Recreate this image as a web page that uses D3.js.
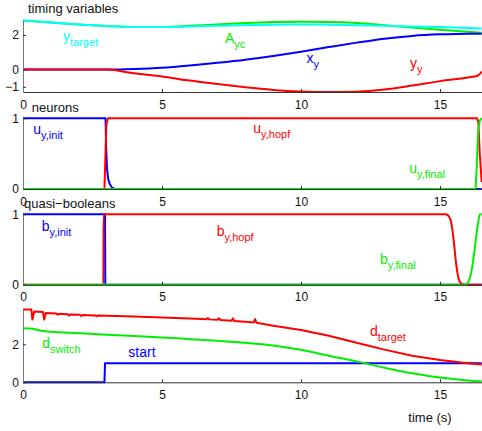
<!DOCTYPE html>
<html>
<head>
<meta charset="utf-8">
<script src="https://cdn.jsdelivr.net/npm/d3@7"></script>
<style>
  body { margin: 0; background: #fff; }
  svg { display: block; font-family: "Liberation Sans", Arial, Helvetica, sans-serif; }
</style>
</head>
<body>
<div id="chart"></div>
<script>
// ---- timing variables ----
const tTiming = [0,1,2,3,4,5,6,7,8,9,10,11,12,13,14,15,16,16.5];
const yTarget = [2.84,2.72,2.61,2.52,2.46,2.46,2.49,2.53,2.57,2.60,2.61,2.60,2.57,2.53,2.49,2.46,2.41,2.38];
const aYc     = [2.84,2.72,2.61,2.52,2.46,2.47,2.53,2.61,2.69,2.75,2.77,2.76,2.70,2.57,2.43,2.31,2.19,2.13];
const xY      = [0,0,0,0,0.03,0.1,0.23,0.39,0.57,0.79,1.03,1.30,1.56,1.79,1.95,2.04,2.08,2.07];
const tYy = [0,1,2,3,4,5,6,7,8,9,10,11,12,13,14,15,16,16.35,16.45,16.5];
const yY  = [0,0,0,0,-0.22,-0.4,-0.64,-0.84,-1.03,-1.18,-1.27,-1.3,-1.28,-1.16,-0.93,-0.67,-0.46,-0.36,-0.22,-0.12];

// ---- neurons ----
const tUInit  = [0,2.97,2.99,3.02,3.06,3.12,3.2,3.3,16.5];
const uInit   = [1,1,0.6,0.3,0.15,0.07,0.02,0,0];
const tUHopf  = [0,2.93,2.96,3.0,3.06,16.33,16.38,16.43,16.5];
const uHopf   = [0,0,0.4,0.92,1,1,0.95,0.5,0.1];
const tUFinal = [0,16.28,16.32,16.37,16.43,16.5];
const uFinal  = [0,0,0.3,0.8,0.97,1];

// ---- quasi-booleans ----
const tBInit  = [0,2.95,2.96,16.5];
const bInit   = [1,1,0,0];
const tBHopf  = [0,2.89,2.9,15.2,15.32,15.42,15.5,15.58,15.66,15.76,15.9,16.5];
const bHopf   = [0,0,1,1,0.97,0.85,0.6,0.3,0.1,0.02,0,0];
const tBFinal = [0,15.92,16.02,16.12,16.22,16.3,16.38,16.44,16.5];
const bFinal  = [0,0,0.04,0.17,0.42,0.68,0.9,1,1];

// ---- distances ----
const tTarget = [0,0.3,0.34,0.4,0.72,0.76,0.82,1.2,1.25,1.3,1.6,1.65,1.7,2.05,2.1,2.15,2.6,2.65,2.7,3,4,5,6,6.6,6.65,6.7,7,7.05,7.1,7.5,7.55,7.6,8,8.3,8.35,8.4,9,10,11,12,13,14,15,16,16.5];
const dTarget = [3.83,3.83,3.3,3.72,3.7,3.3,3.65,3.62,3.55,3.61,3.58,3.52,3.57,3.55,3.49,3.54,3.52,3.47,3.51,3.5,3.46,3.41,3.36,3.32,3.38,3.31,3.29,3.37,3.28,3.24,3.36,3.23,3.19,3.15,3.32,3.13,2.98,2.75,2.45,2.08,1.72,1.4,1.17,1.0,0.94];
const tSwitch = [0,0.35,0.6,1,2,3,4,5,6,7,8,9,10,11,12,13,14,15,16,16.5];
const dSwitch = [2.84,2.82,2.72,2.66,2.58,2.5,2.43,2.36,2.27,2.18,2.08,1.94,1.71,1.4,1.1,0.77,0.48,0.25,0.1,0.05];
const tStart  = [0,2.93,2.95,16.5];
const start   = [0,0,1,1];

const xTicks = [0,5,10,15];

const width = 482, height = 431;
const BLUE = '#0000ff', RED = '#ff0000', GREEN = '#00ee00', CYAN = '#00ffff';

const zip = (ts, vs) => ts.map((t, i) => ({t: t, v: vs[i]}));

const panels = [
  {top: 20, bottom: 92, domain: [-1.3, 2.87], yTicks: [-1,0,2],
   title: 'timing variables', titleX: 28, titleY: 13,
   series: [
     {data: zip(tTiming, aYc), color: GREEN, smooth: true},
     {data: zip(tTiming, yTarget), color: CYAN, smooth: true},
     {data: zip(tTiming, xY), color: BLUE, smooth: true},
     {data: zip(tYy, yY), color: RED, smooth: true}
   ],
   labels: [
     {x: 63, y: 41, main: 'y', sub: 'target', color: CYAN},
     {x: 225, y: 43.3, main: 'A', sub: 'yc', color: GREEN},
     {x: 306.5, y: 63.3, main: 'x', sub: 'y', color: BLUE},
     {x: 410, y: 67.5, main: 'y', sub: 'y', color: RED}
   ]},
  {top: 118.3, bottom: 189, domain: [0, 1], yTicks: [0,1],
   title: 'neurons', titleX: 31.7, titleY: 111.5,
   series: [
     {data: zip(tUInit, uInit), color: BLUE},
     {data: zip(tUHopf, uHopf), color: RED},
     {data: zip(tUFinal, uFinal), color: GREEN}
   ],
   labels: [
     {x: 33.3, y: 134, main: 'u', sub: 'y,init', color: BLUE},
     {x: 253.3, y: 133.3, main: 'u', sub: 'y,hopf', color: RED},
     {x: 409.3, y: 172.5, main: 'u', sub: 'y,final', color: GREEN}
   ]},
  {top: 214.3, bottom: 284.7, domain: [0, 1], yTicks: [0,1],
   title: 'quasi\u2212booleans', titleX: 24, titleY: 207.5,
   series: [
     {data: zip(tBInit, bInit), color: BLUE},
     {data: zip(tBHopf, bHopf), color: RED, smooth: true},
     {data: zip(tBFinal, bFinal), color: GREEN, smooth: true}
   ],
   labels: [
     {x: 41.7, y: 231, main: 'b', sub: 'y,init', color: BLUE},
     {x: 216.7, y: 236, main: 'b', sub: 'y,hopf', color: RED},
     {x: 380, y: 264, main: 'b', sub: 'y,final', color: GREEN}
   ]},
  {top: 309.3, bottom: 382.3, domain: [0, 3.84], yTicks: [0,2],
   series: [
     {data: zip(tStart, start), color: BLUE},
     {data: zip(tSwitch, dSwitch), color: GREEN, smooth: true},
     {data: zip(tTarget, dTarget), color: RED}
   ],
   labels: [
     {x: 42.3, y: 348.3, main: 'd', sub: 'switch', color: GREEN},
     {x: 128.3, y: 356.7, main: 'start', sub: '', color: BLUE},
     {x: 370, y: 335.7, main: 'd', sub: 'target', color: RED}
   ]}
];

const xScale = d3.scaleLinear()
  .domain([0, 16.5])
  .range([23, 23 + 16.5 * 27.8]);

const svg = d3.select('#chart').append('svg')
  .attr('width', width)
  .attr('height', height);

panels.forEach(p => {
  const yScale = d3.scaleLinear()
    .domain(p.domain)
    .range([p.bottom, p.top]);

  const g = svg.append('g');

  p.series.forEach(s => {
    const line = d3.line()
      .x(d => xScale(d.t))
      .y(d => yScale(d.v))
      .curve(s.smooth ? d3.curveMonotoneX : d3.curveLinear);
    g.append('path')
      .attr('fill', 'none')
      .attr('stroke', s.color)
      .attr('stroke-width', 2)
      .attr('stroke-linejoin', 'round')
      .attr('d', line(s.data));
  });

  const xAxisG = g.append('g')
    .attr('transform', `translate(0,${p.bottom})`)
    .call(d3.axisBottom(xScale)
      .tickValues(xTicks)
      .tickFormat(d3.format('d'))
      .tickSizeInner(-3)
      .tickSizeOuter(0)
      .tickPadding(8));
  xAxisG.select('.domain').attr('stroke', '#333');
  xAxisG.selectAll('.tick line').attr('stroke', '#333');
  xAxisG.selectAll('text')
    .attr('font-size', 12)
    .attr('font-family', '"Liberation Sans", Arial, sans-serif')
    .attr('fill', '#111');

  const yAxisG = g.append('g')
    .attr('transform', `translate(${xScale(0)},0)`)
    .call(d3.axisLeft(yScale)
      .tickValues(p.yTicks)
      .tickFormat(d3.format('d'))
      .tickSizeInner(-3)
      .tickSizeOuter(0)
      .tickPadding(4));
  yAxisG.select('.domain').attr('stroke', '#777');
  yAxisG.selectAll('.tick line').attr('stroke', '#333');
  yAxisG.selectAll('text')
    .attr('font-size', 12)
    .attr('font-family', '"Liberation Sans", Arial, sans-serif')
    .attr('fill', '#111');

  if (p.title) {
    svg.append('text')
      .attr('x', p.titleX)
      .attr('y', p.titleY)
      .attr('font-size', 13)
      .attr('fill', '#111')
      .text(p.title);
  }

  p.labels.forEach(l => {
    const txt = svg.append('text')
      .attr('x', l.x)
      .attr('y', l.y)
      .attr('font-size', 14)
      .attr('fill', l.color);
    txt.append('tspan').text(l.main);
    if (l.sub) {
      txt.append('tspan')
        .attr('font-size', 11)
        .attr('dy', 5)
        .text(l.sub);
    }
  });
});

svg.append('text')
  .attr('x', 430)
  .attr('y', 422)
  .attr('text-anchor', 'middle')
  .attr('font-size', 13)
  .attr('fill', '#111')
  .text('time (s)');
</script>
</body>
</html>
